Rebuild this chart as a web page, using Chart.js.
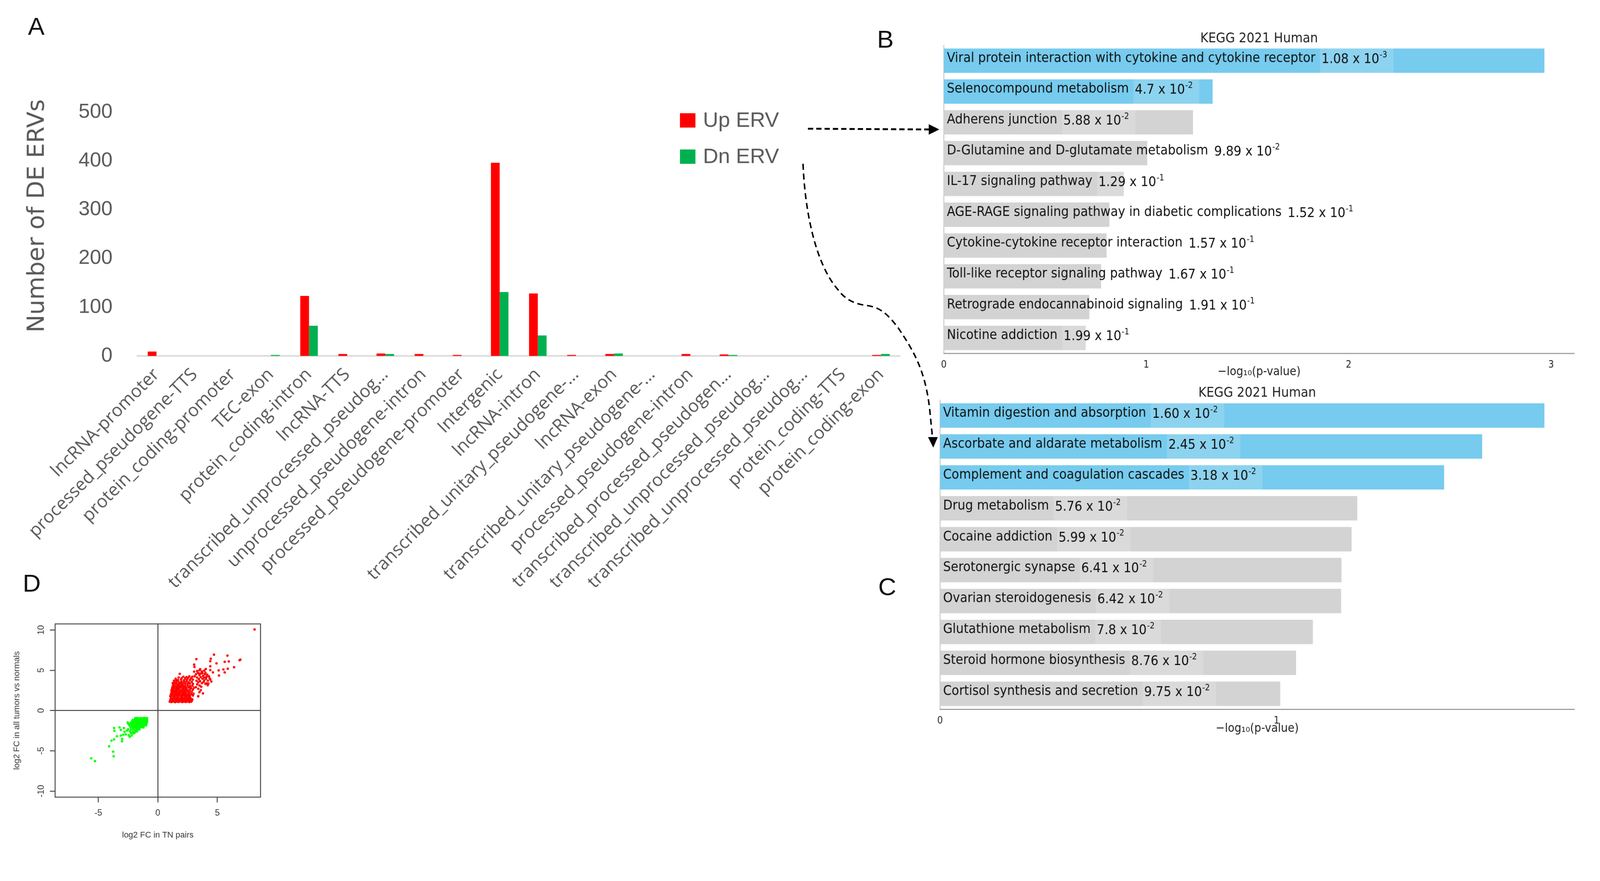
<!DOCTYPE html>
<html><head><meta charset="utf-8">
<script src="https://cdn.jsdelivr.net/npm/chart.js@4.4.1/dist/chart.umd.min.js"></script>
<style>
html,body{margin:0;padding:0;background:#fff;overflow:hidden;}
#page{position:relative;width:4238px;height:2256px;overflow:hidden;background:#fff;transform-origin:0 0;}
canvas{position:absolute;}
.lbl{position:absolute;font-family:"Liberation Sans",Arial,sans-serif;font-size:66px;color:#111;transform:translate(-50%,-50%);line-height:1;}
svg{position:absolute;left:0;top:0;}
</style></head><body>
<div id="page">
<canvas id="cA" width="2420" height="1560" style="left:0;top:0;width:2420px;height:1560px"></canvas>
<canvas id="cB" width="1938" height="1010" style="left:2300px;top:0;width:1938px;height:1010px"></canvas>
<canvas id="cC" width="1938" height="955" style="left:2300px;top:1000px;width:1938px;height:955px"></canvas>
<canvas id="cD" width="760" height="696" style="left:0;top:1560px;width:760px;height:696px"></canvas>
<svg width="4238" height="2256">
<path d="M2140 341 L2462 343" stroke="#000" stroke-width="5" stroke-dasharray="14 8" fill="none"/>
<polygon points="2460,329 2488,343 2460,357" fill="#000"/>
<path d="M2127 434 C2132 560 2160 700 2220 768 C2240 795 2265 806 2300 810 C2330 815 2350 830 2380 870 C2420 930 2450 980 2462 1080 L2470 1160" stroke="#000" stroke-width="4" stroke-dasharray="16 10" fill="none"/>
<polygon points="2458,1158 2484,1158 2472,1186" fill="#000"/>
</svg>
<div class="lbl" style="left:96px;top:69px">A</div>
<div class="lbl" style="left:2345px;top:103px">B</div>
<div class="lbl" style="left:2350px;top:1554px">C</div>
<div class="lbl" style="left:84px;top:1545px">D</div>
</div>
<script>
// fit the 4238x2256 design into the actual viewport
(function(){
  const sc = Math.min(window.innerWidth/4238, window.innerHeight/2256);
  if (sc < 0.999) document.getElementById('page').style.transform = 'scale(' + sc + ')';
})();

// ---------------- DATA ----------------
const categories = [
  "lncRNA-promoter","processed_pseudogene-TTS","protein_coding-promoter","TEC-exon",
  "protein_coding-intron","lncRNA-TTS","transcribed_unprocessed_pseudog...","unprocessed_pseudogene-intron",
  "processed_pseudogene-promoter","Intergenic","lncRNA-intron","transcribed_unitary_pseudogene-...",
  "lncRNA-exon","transcribed_unitary_pseudogene-...","processed_pseudogene-intron","transcribed_processed_pseudogen...",
  "transcribed_unprocessed_pseudog...","transcribed_unprocessed_pseudog...","protein_coding-TTS","protein_coding-exon"
];
const upERV = [9,0,0,0,123,4,5,4,2,396,128,2,4,0,4,3,0,0,0,2];
const dnERV = [0,0,0,2,62,0,4,0,0,131,42,0,5,0,0,2,0,0,0,4];
const seriesNames = ["Up ERV","Dn ERV"];
const yMaxA = 500, yStepA = 100;

const keggTitle = "KEGG 2021 Human";
const upTerms = ["Viral protein interaction with cytokine and cytokine receptor","Selenocompound metabolism","Adherens junction",
  "D-Glutamine and D-glutamate metabolism","IL-17 signaling pathway","AGE-RAGE signaling pathway in diabetic complications",
  "Cytokine-cytokine receptor interaction","Toll-like receptor signaling pathway","Retrograde endocannabinoid signaling","Nicotine addiction"];
const upScore = [2.967,1.328,1.231,1.005,0.889,0.818,0.804,0.777,0.719,0.701];
const upPMant = ["1.08","4.7","5.88","9.89","1.29","1.52","1.57","1.67","1.91","1.99"];
const upPExp = [-3,-2,-2,-2,-1,-1,-1,-1,-1,-1];
const upSignificant = 2;

const dnTerms = ["Vitamin digestion and absorption","Ascorbate and aldarate metabolism","Complement and coagulation cascades",
  "Drug metabolism","Cocaine addiction","Serotonergic synapse","Ovarian steroidogenesis","Glutathione metabolism",
  "Steroid hormone biosynthesis","Cortisol synthesis and secretion"];
const dnScore = [1.796,1.611,1.498,1.240,1.223,1.193,1.192,1.108,1.058,1.011];
const dnPMant = ["1.60","2.45","3.18","5.76","5.99","6.41","6.42","7.8","8.76","9.75"];
const dnPExp = [-2,-2,-2,-2,-2,-2,-2,-2,-2,-2];
const dnSignificant = 3;

const redPoints = [
 [8.13,10.06],[4.72,6.93],[5.85,6.82],[3.24,6.38],[4.45,6.43],[4.41,6.12],[6.87,6.24],[6.94,6.32],[5.62,6.04],[5.96,6.09],
 [4.93,5.85],[3.05,5.70],[3.08,5.41],[4.41,5.49],[6.41,5.38],[3.56,5.13],[4.03,5.15],[4.41,5.02],[5.11,4.98],[5.51,5.10],
 [5.88,5.19],[5.62,4.73],[4.63,4.73],[3.05,4.83],[5.14,4.35],[1.84,4.55],[3.79,2.13],[3.40,1.78],[2.86,1.24],[3.50,2.28],
 [3.61,2.52],[4.19,3.14],[4.08,3.38],[4.41,3.85],[4.30,4.24],[3.39,1.76],[2.85,1.19],
 [3.3,4.9],[3.5,5.0],[3.7,4.85],[3.9,4.95],[3.45,4.6],[3.75,4.65],[4.0,4.7],[4.15,4.45],
 [3.2,4.5],[3.35,4.7],[3.5,4.4],[3.65,4.6],[3.8,4.3],[3.95,4.5],[4.1,4.2],[3.3,4.1],[3.45,3.9],[3.6,4.15],[3.75,3.95],
 [3.9,3.75],[4.05,3.95],[4.2,3.7],[3.25,3.7],[3.4,3.5],[3.55,3.65],[3.7,3.4],[3.85,3.55],[4.0,3.3],[3.3,3.25],[3.5,3.1],
 [3.65,2.95],[3.2,2.9],[3.4,2.7],[4.35,4.0],[4.5,3.6],[4.25,3.35],[3.1,4.25],[3.9,4.1],
 [1.0,1.1],[1.15,1.05],[1.3,1.12],[1.45,1.04],[1.6,1.1],[1.75,1.06],[1.9,1.13],[2.05,1.05],[2.2,1.1],[2.35,1.07],[2.5,1.12],[2.65,1.05],[2.8,1.1],
 [1.05,1.32],[1.2,1.27],[1.35,1.35],[1.5,1.28],[1.65,1.33],[1.8,1.26],[1.95,1.34],[2.1,1.29],[2.25,1.36],[2.4,1.27],[2.55,1.33],[2.7,1.3],[2.9,1.38],
 [1.1,1.55],[1.25,1.5],[1.4,1.58],[1.55,1.52],[1.7,1.57],[1.85,1.5],[2.0,1.56],[2.15,1.53],[2.3,1.6],[2.45,1.51],[2.6,1.57],[2.75,1.54],
 [1.05,1.78],[1.2,1.82],[1.35,1.76],[1.5,1.83],[1.65,1.79],[1.8,1.84],[1.95,1.77],[2.1,1.81],[2.25,1.85],[2.4,1.78],[2.55,1.83],[2.7,1.8],[2.95,1.86],
 [1.1,2.02],[1.25,2.07],[1.4,2.0],[1.55,2.06],[1.7,2.03],[1.85,2.08],[2.0,2.01],[2.15,2.05],[2.3,2.09],[2.45,2.02],[2.6,2.07],[2.8,2.04],[3.0,2.1],
 [1.15,2.28],[1.3,2.33],[1.45,2.26],[1.6,2.31],[1.75,2.29],[1.9,2.34],[2.05,2.27],[2.2,2.32],[2.35,2.3],[2.5,2.35],[2.65,2.28],[2.85,2.33],
 [1.15,2.52],[1.3,2.57],[1.45,2.5],[1.6,2.55],[1.75,2.58],[1.9,2.51],[2.05,2.56],[2.2,2.53],[2.35,2.59],[2.5,2.52],[2.7,2.57],[2.95,2.6],
 [1.2,2.78],[1.35,2.82],[1.5,2.76],[1.65,2.81],[1.8,2.79],[1.95,2.84],[2.1,2.77],[2.25,2.82],[2.4,2.8],[2.6,2.85],[2.8,2.78],[3.05,2.83],
 [1.25,3.02],[1.4,3.07],[1.55,3.0],[1.7,3.06],[1.85,3.03],[2.0,3.08],[2.15,3.01],[2.3,3.05],[2.5,3.09],[2.7,3.02],[2.9,3.07],
 [1.3,3.28],[1.5,3.33],[1.65,3.26],[1.8,3.31],[1.95,3.35],[2.1,3.27],[2.3,3.32],[2.5,3.29],[2.7,3.34],[2.95,3.3],
 [1.4,3.52],[1.6,3.57],[1.8,3.5],[2.0,3.56],[2.2,3.53],[2.4,3.58],[2.6,3.51],[2.85,3.56],
 [1.7,3.78],[1.95,3.83],[2.2,3.76],[2.45,3.81],[2.7,3.79],[2.95,3.84],
 [2.0,4.02],[2.3,3.98],[2.55,4.05],[2.8,4.0],[1.55,3.75],[2.15,4.2],[2.65,4.25],
 [1.5,3.95],[1.75,4.1],[2.4,4.15],[2.9,4.2],[1.35,3.7],[1.25,3.4]
];
const greenPoints = [
 [-5.60,-5.93],[-5.28,-6.28],[-4.09,-4.44],[-3.75,-5.10],[-3.71,-5.68],[-3.90,-3.74],[-3.68,-3.59],[-3.43,-3.19],[-3.68,-2.17],
 [-3.65,-2.52],[-3.22,-2.10],[-3.11,-2.41],[-2.85,-2.17],[-3.01,-3.82],[-2.99,-3.51],[-3.11,-3.11],[-2.69,-2.96],[-2.80,-2.64],
 [-2.53,-1.47],[-2.59,-2.49],[-2.37,-3.27],[-2.26,-2.80],[-2.9,-3.0],[-2.45,-3.05],[-2.2,-3.1],[-2.05,-2.85],[-1.95,-2.75],
 [-1.9,-0.95],[-1.75,-0.92],[-1.6,-0.97],[-1.45,-0.93],[-1.3,-0.96],[-1.15,-0.92],[-1.0,-0.97],[-0.9,-0.94],
 [-2.1,-1.17],[-1.95,-1.13],[-1.8,-1.18],[-1.65,-1.12],[-1.5,-1.16],[-1.35,-1.14],[-1.2,-1.19],[-1.05,-1.13],[-0.9,-1.17],
 [-2.2,-1.38],[-2.05,-1.42],[-1.9,-1.36],[-1.75,-1.41],[-1.6,-1.39],[-1.45,-1.43],[-1.3,-1.37],[-1.15,-1.41],[-1.0,-1.38],[-0.9,-1.42],
 [-2.5,-1.62],[-2.3,-1.58],[-2.15,-1.63],[-2.0,-1.59],[-1.85,-1.64],[-1.7,-1.6],[-1.55,-1.65],[-1.4,-1.58],[-1.25,-1.63],[-1.1,-1.6],[-0.95,-1.64],
 [-2.4,-1.83],[-2.2,-1.87],[-2.05,-1.82],[-1.9,-1.88],[-1.75,-1.84],[-1.6,-1.86],[-1.45,-1.81],[-1.3,-1.88],[-1.15,-1.83],[-1.0,-1.86],
 [-2.3,-2.08],[-2.1,-2.12],[-1.95,-2.07],[-1.8,-2.13],[-1.65,-2.09],[-1.5,-2.11],[-1.35,-2.06],[-1.2,-2.1],
 [-2.5,-2.33],[-2.25,-2.37],[-2.05,-2.32],[-1.85,-2.38],[-1.7,-2.34],[-1.55,-2.36],
 [-2.35,-2.58],[-2.1,-2.62],[-1.9,-2.57],[-1.75,-2.6]
];

// ---------------- HELPERS ----------------
function fontAvailable(name){
  const c=document.createElement('canvas').getContext('2d');
  const s='mmmmmmmmmmlliWWWabcdefg';
  c.font='72px monospace'; const w1=c.measureText(s).width;
  c.font='72px serif'; const w2=c.measureText(s).width;
  c.font='72px "'+name+'", monospace'; const w3=c.measureText(s).width;
  c.font='72px "'+name+'", serif'; const w4=c.measureText(s).width;
  return w3!==w1 || w4!==w2;
}
const COND = fontAvailable('DejaVu Sans Condensed');
const KFONT = COND ? '"DejaVu Sans Condensed"' : '"DejaVu Sans"';
const KS = COND ? 1 : 0.9;
const GREY = '#595959';
const LIB = '"Liberation Sans", Arial, sans-serif';

// ---------------- PANEL A ----------------
const legendA = {
  id:'legendA',
  afterDraw(chart){
    const ctx=chart.ctx; ctx.save();
    const ys=[319,415];
    chart.data.datasets.forEach((ds,i)=>{
      ctx.fillStyle=ds.backgroundColor; ctx.fillRect(1801, ys[i]-19, 41, 38);
      ctx.fillStyle=GREY; ctx.font='56px '+LIB; ctx.textBaseline='middle'; ctx.textAlign='left';
      ctx.fillText(ds.label, 1862, ys[i]+2);
    });
    ctx.restore();
  }
};
const yTitleA = {
  id:'yTitleA',
  afterDraw(chart){
    const ctx=chart.ctx; ctx.save();
    ctx.translate(100,572); ctx.rotate(-Math.PI/2);
    ctx.font='63px "DejaVu Sans"'; ctx.fillStyle=GREY; ctx.textAlign='center'; ctx.textBaseline='middle';
    ctx.fillText('Number of DE ERVs',0,0);
    ctx.restore();
  }
};
new Chart(document.getElementById('cA'), {
  type:'bar',
  data:{labels:categories, datasets:[
    {label:seriesNames[0], data:upERV, backgroundColor:'#FF0000'},
    {label:seriesNames[1], data:dnERV, backgroundColor:'#00B050'}
  ]},
  options:{
    responsive:false, animation:false, devicePixelRatio:1,
    layout:{padding:{top:297,right:36,left:0,bottom:0}},
    plugins:{legend:{display:false}, tooltip:{enabled:false}},
    datasets:{bar:{categoryPercentage:0.46, barPercentage:1.0}},
    scales:{
      y:{min:0,max:yMaxA,
        ticks:{stepSize:yStepA,padding:58,color:GREY,font:{family:LIB,size:54}},
        grid:{display:false}, border:{display:false},
        afterFit(s){s.width=364;}},
      x:{grid:{display:false}, border:{color:'#D9D9D9',width:4},
        ticks:{autoSkip:false,minRotation:45,maxRotation:45,padding:14,color:GREY,font:{family:'"Open Sans", sans-serif',size:47}},
        afterFit(s){s.height=617;}}
    }
  },
  plugins:[legendA,yTitleA]
});

// ---------------- PANELS B & C ----------------
function keggPlugin(mant, exp, titleY){
  return {
    id:'kegg',
    afterDatasetsDraw(chart){
      const ctx=chart.ctx; const ca=chart.chartArea; ctx.save();
      const fs=36*KS;
      ctx.font=fs+'px '+KFONT; ctx.fillStyle='#222'; ctx.textAlign='center'; ctx.textBaseline='middle';
      ctx.fillText(keggTitle,(ca.left+ca.right)/2,titleY);
      const meta=chart.getDatasetMeta(0);
      meta.data.forEach((bar,i)=>{
        const y=bar.y+3;
        const name=chart.data.labels[i];
        ctx.font=fs+'px '+KFONT; ctx.textAlign='left'; ctx.textBaseline='alphabetic';
        const x0=ca.left+8;
        const nw=ctx.measureText(name).width;
        const x=x0+nw+16;
        const base=mant[i]+' x 10';
        const bw=ctx.measureText(base).width;
        const sf=fs*0.62;
        ctx.font=sf+'px '+KFONT;
        const ew=ctx.measureText(String(exp[i])).width;
        ctx.fillStyle='rgba(255,255,255,0.16)';
        ctx.fillRect(x-4, bar.y-bar.height/2, bw+ew+22, bar.height);
        ctx.fillStyle='#111';
        ctx.font=fs+'px '+KFONT;
        ctx.fillText(name,x0,y);
        ctx.fillText(base,x,y+3);
        ctx.font=sf+'px '+KFONT;
        ctx.fillText(String(exp[i]),x+bw+1,y+3-fs*0.42);
      });
      ctx.restore();
    }
  };
}
function keggChart(id, terms, score, mant, exp, nSig, xMax, padTop, yW, xH, titleY){
  const colors=score.map((v,i)=> i<nSig ? '#76CBEE' : '#D3D3D3');
  new Chart(document.getElementById(id), {
    type:'bar',
    data:{labels:terms, datasets:[{data:score, backgroundColor:colors}]},
    options:{
      indexAxis:'y', responsive:false, animation:false, devicePixelRatio:1,
      layout:{padding:{top:padTop,right:68,left:0,bottom:0}},
      plugins:{legend:{display:false}, tooltip:{enabled:false}},
      datasets:{bar:{categoryPercentage:1.0, barPercentage:0.79}},
      scales:{
        y:{ticks:{display:false}, grid:{display:false}, border:{color:'#BDBDBD',width:2}, afterFit(s){s.width=yW;}},
        x:{min:0,max:xMax, grid:{display:false}, border:{color:'#A0A0A0',width:3},
          ticks:{stepSize:1,includeBounds:false,padding:8,color:'#222',font:{family:KFONT,size:26*KS}},
          afterBuildTicks(s){s.ticks=s.ticks.filter(t=>Number.isInteger(t.value));},
          title:{display:true,text:'\u2212log\u2081\u2080(p-value)',color:'#222',font:{family:KFONT,size:32*KS},padding:{top:0,bottom:5}},
          afterFit(s){s.height=xH;}}
      }
    },
    plugins:[keggPlugin(mant,exp,titleY)]
  });
}
keggChart('cB', upTerms, upScore, upPMant, upPExp, upSignificant, 3.115, 120, 200, 74, 103);
keggChart('cC', dnTerms, dnScore, dnPMant, dnPExp, dnSignificant, 1.885, 60, 190, 76, 42);

// ---------------- PANEL D ----------------
const frameD = {
  id:'frameD',
  afterDraw(chart){
    const ctx=chart.ctx; const ca=chart.chartArea; ctx.save();
    ctx.strokeStyle='#444'; ctx.lineWidth=2.5;
    ctx.strokeRect(ca.left,ca.top,ca.right-ca.left,ca.bottom-ca.top);
    const ys=chart.scales.y;
    ctx.font='23px '+LIB; ctx.fillStyle='#333'; ctx.textAlign='center'; ctx.textBaseline='middle';
    ys.ticks.forEach(t=>{
      const py=ys.getPixelForValue(t.value);
      ctx.save(); ctx.translate(110,py); ctx.rotate(-Math.PI/2); ctx.fillText(String(t.value),0,0); ctx.restore();
    });
    ctx.restore();
  }
};
const zeroGrid = c => (c.tick && c.tick.value===0) ? '#444' : 'rgba(0,0,0,0)';
new Chart(document.getElementById('cD'), {
  type:'scatter',
  data:{datasets:[
    {data:redPoints.map(p=>({x:p[0],y:p[1]})), backgroundColor:'#FF0000', borderWidth:0, pointRadius:3.2},
    {data:greenPoints.map(p=>({x:p[0],y:p[1]})), backgroundColor:'#00FF00', borderWidth:0, pointRadius:3.2}
  ]},
  options:{
    responsive:false, animation:false, devicePixelRatio:1,
    layout:{padding:{top:93,right:70,left:0,bottom:0}},
    plugins:{legend:{display:false}, tooltip:{enabled:false}},
    scales:{
      x:{min:-8.63,max:8.63, border:{display:false},
        grid:{color:zeroGrid, lineWidth:2.5, tickColor:'#444', tickLength:14},
        ticks:{stepSize:5,includeBounds:false,padding:15,color:'#333',font:{family:LIB,size:23}},
        afterBuildTicks(s){s.ticks=s.ticks.filter(t=>t.value%5===0);},
        title:{display:true,text:'log2 FC in TN pairs',color:'#333',font:{family:LIB,size:22},padding:{top:0,bottom:30}},
        afterFit(s){s.height=144;}},
      y:{min:-10.75,max:10.75, border:{display:false},
        grid:{color:zeroGrid, lineWidth:2.5, tickColor:'#444', tickLength:14},
        ticks:{display:false, stepSize:5, includeBounds:false},
        afterBuildTicks(s){s.ticks=s.ticks.filter(t=>t.value%5===0);},
        title:{display:true,text:'log2 FC in all tumors vs normals',color:'#333',font:{family:LIB,size:22},padding:{top:32,bottom:0}},
        afterFit(s){s.width=146;}}
    }
  },
  plugins:[frameD]
});
</script>
</body></html>
